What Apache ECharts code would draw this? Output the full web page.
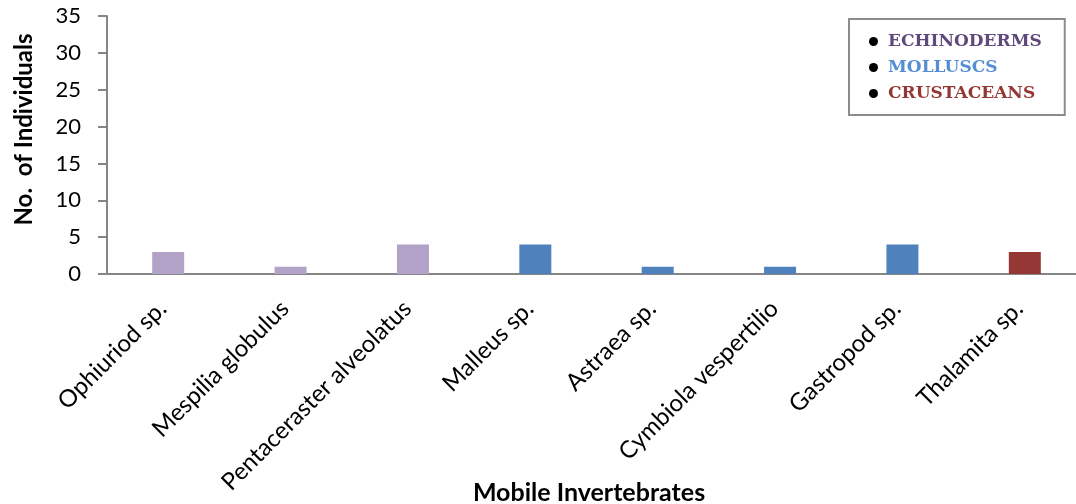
<!DOCTYPE html>
<html>
<head>
<meta charset="utf-8">
<script src="https://cdn.jsdelivr.net/npm/echarts@6/dist/echarts.min.js"></script>
<style>
  html, body { margin: 0; padding: 0; background: #fff; }
  #main { width: 1076px; height: 504px; }
</style>
</head>
<body>
<div id="main"></div>
<script>
// species on the x axis
var species = ['Ophiuriod sp.', 'Mespilia globulus', 'Pentaceraster alveolatus', 'Malleus sp.',
  'Astraea sp.', 'Cymbiola vespertilio', 'Gastropod sp.', 'Thalamita sp.'];

// counts per group, '-' where the species is not in that group
var echinoderms = [3, 1, 4, '-', '-', '-', '-', '-'];
var molluscs = ['-', '-', '-', 4, 1, 1, 4, '-'];
var crustaceans = ['-', '-', '-', '-', '-', '-', '-', 3];

var yTicks = [0, 5, 10, 15, 20, 25, 30, 35];

var font = 'Lato';
var chart = echarts.init(document.getElementById('main'), null, { renderer: 'canvas' });

function bar(name, data, color) {
  return {
    name: name,
    type: 'bar',
    stack: 'all',
    barWidth: 32,
    data: data,
    itemStyle: { color: color },
    emphasis: { disabled: true }
  };
}

var option = {
  animation: false,
  backgroundColor: '#fff',
  grid: { left: 107, top: 16, width: 979, height: 258, outerBoundsMode: 'none' },
  title: {
    text: 'Mobile Invertebrates',
    left: 584,
    top: 475,
    textAlign: 'center',
    textStyle: { fontFamily: font, fontWeight: 'bold', fontSize: 25, color: '#000' }
  },
  legend: {
    orient: 'vertical',
    left: 849,
    top: 19,
    padding: [14, 23, 13, 20],
    itemGap: 9,
    itemWidth: 9,
    itemHeight: 9,
    icon: 'circle',
    borderColor: '#8c8c8c',
    borderWidth: 2,
    textStyle: { fontFamily: 'DejaVu Serif', fontWeight: 'bold', fontSize: 17, padding: [0, 0, 0, 5] },
    data: [
      { name: 'ECHINODERMS', itemStyle: { color: '#000' }, textStyle: { color: '#604A7B' } },
      { name: 'MOLLUSCS', itemStyle: { color: '#000' }, textStyle: { color: '#558ED5' } },
      { name: 'CRUSTACEANS', itemStyle: { color: '#000' }, textStyle: { color: '#953735' } }
    ]
  },
  xAxis: {
    type: 'category',
    data: species,
    axisLine: { lineStyle: { color: '#868686', width: 2 } },
    axisTick: { show: false },
    axisLabel: {
      rotate: 45,
      interval: 0,
      margin: 25,
      padding: [0, 8, 0, 0],
      fontFamily: font,
      fontSize: 24,
      color: '#000'
    }
  },
  yAxis: {
    type: 'value',
    min: 0,
    max: 35,
    interval: 5,
    name: 'No.  of Individuals',
    nameLocation: 'middle',
    nameGap: 71,
    nameRotate: 90,
    nameTextStyle: { fontFamily: font, fontWeight: 'bold', fontSize: 24, color: '#000', padding: [0, 0, 0, 31] },
    axisLine: { show: true, lineStyle: { color: '#868686', width: 2 } },
    axisTick: { show: true, length: 9, lineStyle: { color: '#868686', width: 2 } },
    splitLine: { show: false },
    axisLabel: {
      margin: 26,
      fontFamily: font,
      fontSize: 22,
      color: '#000',
      formatter: function (v) { return yTicks.indexOf(v) >= 0 ? String(v) : ''; }
    }
  },
  series: [
    bar('ECHINODERMS', echinoderms, '#B3A2C7'),
    bar('MOLLUSCS', molluscs, '#4F81BD'),
    bar('CRUSTACEANS', crustaceans, '#953735')
  ]
};

chart.setOption(option);
</script>
</body>
</html>
